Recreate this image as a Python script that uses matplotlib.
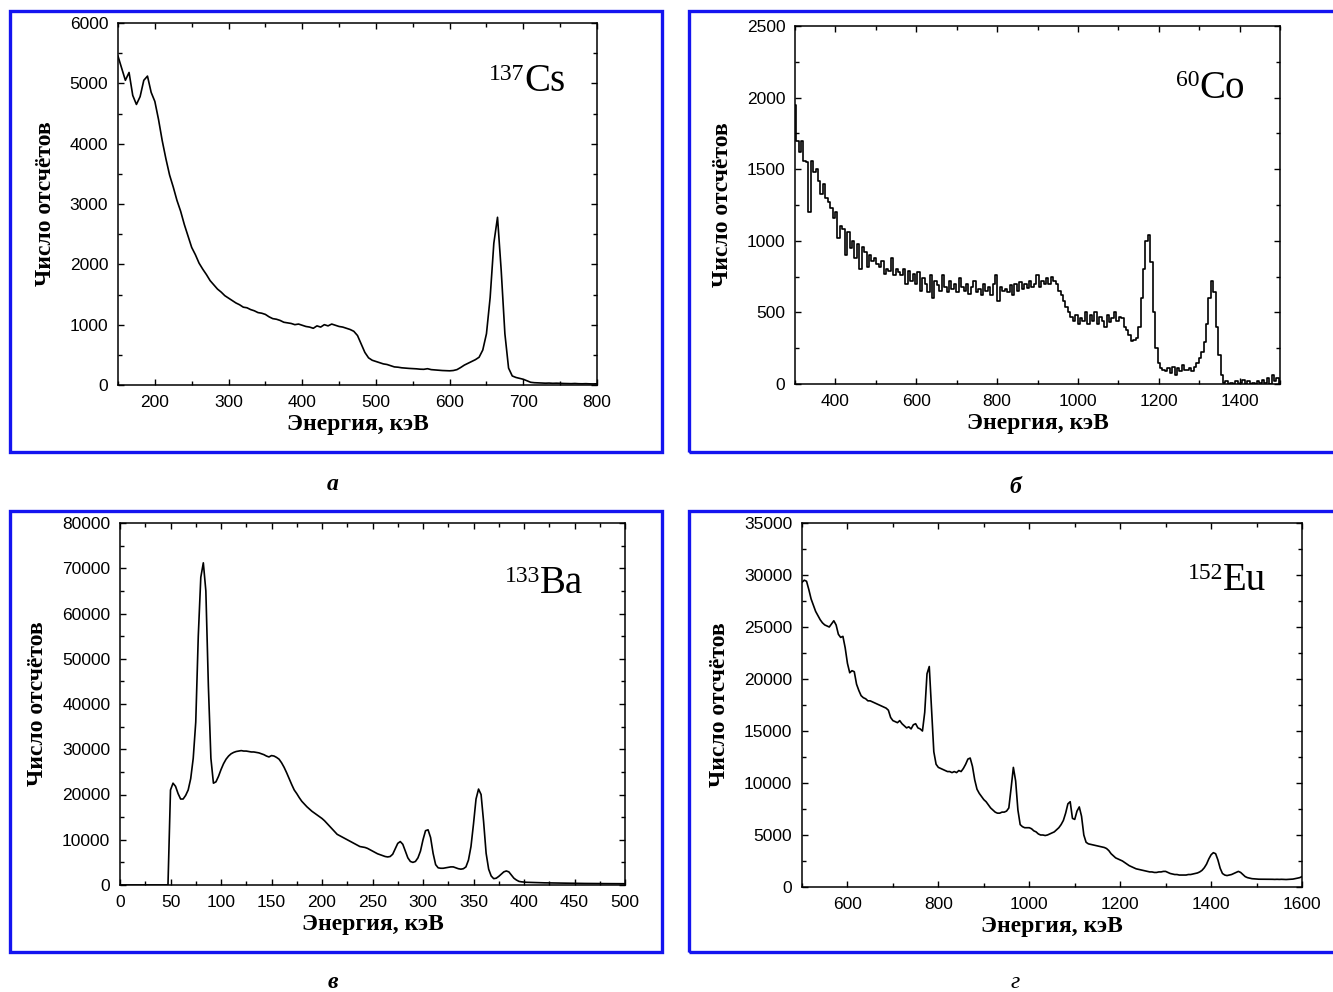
import numpy as np
import matplotlib
matplotlib.use("Agg")
import matplotlib.pyplot as plt
from matplotlib.patches import Rectangle
from matplotlib.ticker import MultipleLocator

plt.rcParams['font.family'] = ['Liberation Sans', 'DejaVu Sans']

# -----------------------------
# Data
# -----------------------------
# 137Cs, 150..800 keV, step 5
cs_start, cs_step = 150, 5
cs_counts = [
    5450, 5250, 5050, 5180, 4800, 4650, 4780, 5050, 5120, 4850,
    4700, 4400, 4050, 3750, 3480, 3280, 3060, 2880, 2660, 2470,
    2280, 2160, 2020, 1920, 1830, 1730, 1660, 1590, 1540, 1480,
    1440, 1400, 1360, 1330, 1290, 1280, 1250, 1230, 1200, 1190,
    1170, 1130, 1100, 1090, 1070, 1040, 1030, 1020, 1000, 1010,
    990, 970, 960, 940, 980, 960, 1000, 980, 1010, 990,
    970, 960, 940, 920, 890, 820, 680, 540, 450, 410,
    390, 370, 350, 340, 320, 300, 295, 285, 280, 275,
    272, 268, 262, 260, 270, 255, 250, 245, 240, 238,
    235, 240, 255, 290, 330, 360, 390, 420, 460, 580,
    850, 1450, 2350, 2780, 1900, 850, 280, 150, 125, 110,
    95, 70, 45, 38, 35, 33, 30, 32, 28, 30,
    27, 25, 24, 22, 25, 21, 20, 22, 19, 18, 20,
]

# 60Co, 300..1500 keV, step 6
co_start, co_step = 300, 6
co_counts = [
    1950, 1700, 1620, 1700, 1560, 1550, 1200, 1560, 1480, 1500,
    1420, 1330, 1400, 1300, 1270, 1230, 1160, 1200, 1020, 1100,
    1080, 900, 1060, 950, 1000, 880, 980, 800, 960, 920,
    820, 900, 860, 880, 840, 820, 860, 770, 800, 790,
    880, 760, 800, 780, 760, 800, 700, 790, 720, 770,
    700, 780, 650, 740, 700, 640, 760, 600, 720, 690,
    650, 760, 680, 640, 720, 660, 700, 640, 740, 680,
    650, 700, 630, 680, 720, 640, 660, 620, 700, 650,
    680, 620, 700, 760, 580, 680, 650, 660, 640, 690,
    620, 700, 650, 710, 660, 700, 670, 720, 680, 700,
    760, 680, 720, 700, 740, 700, 750, 720, 700, 650,
    620, 580, 540, 500, 470, 440, 480, 420, 460, 440,
    500, 420, 480, 440, 500, 420, 470, 440, 400, 480,
    430, 460, 500, 440, 470, 460, 400, 380, 340, 300,
    310, 320, 400, 600, 800, 1000, 1040, 850, 500, 250,
    150, 110, 100, 90, 110, 80, 120, 60, 110, 90,
    130, 100, 100, 110, 90, 120, 150, 180, 220, 290,
    420, 600, 720, 640, 400, 200, 60, 10, 20, 0,
    10, 0, 20, 0, 10, 30, 0, 20, 0, 10,
    0, 20, 10, 30, 10, 40, 0, 60, 20, 40, 0,
]

# 133Ba, 0..500 keV, step 2.5
ba_start, ba_step = 0, 2.5
ba_counts = [
    0, 0, 0, 0, 0, 0, 0, 0, 0, 0,
    0, 0, 0, 0, 0, 0, 0, 0, 0, 0,
    21000, 22500, 21800, 20200, 19000, 19000, 19800, 21000, 23500, 28000,
    36000, 55000, 68000, 71200, 65000, 44000, 28000, 22500, 22800, 24000,
    25500, 26800, 27800, 28500, 29000, 29300, 29500, 29600, 29700, 29600,
    29600, 29500, 29400, 29400, 29300, 29200, 29000, 28800, 28500, 28300,
    28600, 28500, 28200, 27800, 27000, 26000, 24800, 23500, 22200, 21000,
    20200, 19300, 18500, 17900, 17300, 16800, 16300, 15900, 15500, 15100,
    14700, 14200, 13600, 13000, 12400, 11800, 11200, 10900, 10600, 10300,
    10000, 9700, 9400, 9100, 8800, 8500, 8400, 8300, 8100, 7800,
    7500, 7200, 6900, 6700, 6500, 6300, 6200, 6300, 6800, 8000,
    9200, 9600, 9000, 7500, 6000, 5200, 5000, 5200, 6000, 7500,
    10000, 12000, 12200, 10500, 7000, 4500, 3800, 3700, 3700, 3800,
    3900, 4000, 4000, 3800, 3600, 3500, 3600, 4000, 5500, 8500,
    13500, 19000, 21200, 20000, 14000, 7000, 3500, 2000, 1400, 1500,
    1900, 2400, 2900, 3100, 2900, 2200, 1500, 1100, 800, 700,
    650, 600, 580, 560, 540, 520, 500, 490, 480, 470,
    460, 450, 440, 430, 420, 410, 400, 400, 390, 380,
    380, 370, 360, 350, 340, 340, 330, 330, 320, 320,
    310, 310, 300, 300, 300, 290, 290, 280, 280, 280, 280,
]

# 152Eu, 500..1600 keV, step 5
eu_start, eu_step = 500, 5
eu_counts = [
    29300, 29500, 29400, 28600, 27700, 27100, 26500, 26100, 25700, 25400,
    25200, 25100, 25000, 25300, 25600, 25200, 24300, 24000, 24100, 23000,
    21500, 20600, 20800, 20700, 19500, 18900, 18400, 18200, 18100, 17900,
    17900, 17800, 17700, 17600, 17500, 17400, 17300, 17200, 17000, 16300,
    16000, 15900, 15800, 16000, 15700, 15500, 15300, 15400, 15200, 15600,
    15700, 15300, 15200, 15000, 16800, 20500, 21200, 17000, 13000, 11800,
    11500, 11400, 11300, 11200, 11100, 11100, 11000, 11100, 11000, 11200,
    11100, 11400, 11800, 12300, 12400, 11600, 10300, 9400, 9000, 8700,
    8400, 8200, 7900, 7600, 7400, 7200, 7100, 7100, 7200, 7200,
    7300, 7600, 9500, 11500, 10200, 7400, 6000, 5800, 5700, 5700,
    5700, 5600, 5400, 5300, 5100, 5000, 5000, 4950, 5000, 5100,
    5200, 5300, 5500, 5700, 6000, 6400, 7100, 8000, 8200, 6600,
    6500, 7300, 7700, 6800, 5000, 4300, 4150, 4100, 4050, 4000,
    3950, 3900, 3850, 3800, 3700, 3500, 3200, 3000, 2800, 2700,
    2600, 2500, 2350, 2200, 2050, 1950, 1850, 1750, 1700, 1650,
    1600, 1550, 1500, 1450, 1450, 1400, 1400, 1450, 1450, 1500,
    1500, 1400, 1300, 1250, 1200, 1200, 1150, 1150, 1150, 1150,
    1200, 1200, 1250, 1300, 1350, 1450, 1600, 1850, 2200, 2700,
    3100, 3300, 3200, 2600, 1800, 1300, 1150, 1100, 1150, 1200,
    1300, 1400, 1500, 1400, 1200, 1000, 900, 850, 800, 780,
    760, 750, 750, 750, 740, 740, 750, 740, 730, 740,
    730, 740, 730, 720, 730, 750, 760, 800, 850, 900, 1000,
]

panels = [
    # counts, start, step, xlim, ylim, xmaj, xmin, ymaj, ymin, mass, symbol, label, drawstyle
    (cs_counts, cs_start, cs_step, (150, 800), (0, 6000), 100, 50, 1000, 500, "137", "Cs", "а", 'default'),
    (co_counts, co_start, co_step, (300, 1500), (0, 2500), 200, 100, 500, 250, "60", "Co", "б", 'steps-mid'),
    (ba_counts, ba_start, ba_step, (0, 500), (0, 80000), 50, 25, 10000, 5000, "133", "Ba", "в", 'default'),
    (eu_counts, eu_start, eu_step, (500, 1600), (0, 35000), 200, 100, 5000, 2500, "152", "Eu", "г", 'default'),
]

W, H = 1333, 992
# axes rectangles in pixels: left, top, right, bottom
axes_px = [(118, 23, 597, 385), (795, 26, 1280, 384), (120, 523, 625, 885), (802, 523, 1302, 887)]
box_px = [(10, 11, 662, 452), (689, 11, 1345, 452), (10, 511, 662, 952), (689, 511, 1345, 952)]
iso_pos = [(0.935, 0.812), (0.928, 0.80), (0.917, 0.807), (0.928, 0.816)]
cap_px = [(333, 484), (1015, 487), (333, 983), (1015, 983)]

fig = plt.figure(figsize=(W / 100, H / 100), dpi=100)

for i, (counts, x0, dx, xlim, ylim, xmaj, xmin, ymaj, ymin, mass, sym, lab, ds) in enumerate(panels):
    l, t, r, b = axes_px[i]
    ax = fig.add_axes([l / W, 1 - b / H, (r - l) / W, (b - t) / H])
    energy = x0 + dx * np.arange(len(counts))
    ax.plot(energy, counts, drawstyle=ds, color='black', lw=1.2)
    ax.set_xlim(*xlim)
    ax.set_ylim(*ylim)
    ax.xaxis.set_major_locator(MultipleLocator(xmaj))
    ax.xaxis.set_minor_locator(MultipleLocator(xmin))
    ax.yaxis.set_major_locator(MultipleLocator(ymaj))
    ax.yaxis.set_minor_locator(MultipleLocator(ymin))
    ax.tick_params(which='both', direction='in', top=True, right=True, width=1.0)
    ax.tick_params(which='major', length=4.5, labelsize=12.5, pad=7)
    ax.tick_params(which='minor', length=3)
    for s in ax.spines.values():
        s.set_linewidth(1.1)
    ax.set_xlabel("Энергия, кэВ", family='Liberation Serif', weight='bold', fontsize=17, labelpad=3)
    ax.set_ylabel("Число отсчётов", family='Liberation Serif', weight='bold', fontsize=17, labelpad=10)

    # isotope label with superscript mass number
    main = ax.text(iso_pos[i][0], iso_pos[i][1], sym, transform=ax.transAxes, ha='right',
                   va='baseline', family='Liberation Serif', fontsize=28)
    ax.annotate(mass, xy=(0, 0.98), xycoords=main, ha='right', va='top',
                family='Liberation Serif', fontsize=17)

    # blue frame around the panel
    bl, bt, br, bb = box_px[i]
    fig.add_artist(Rectangle((bl / W, 1 - bb / H), (br - bl) / W, (bb - bt) / H,
                             transform=fig.transFigure, fill=False,
                             edgecolor='#1414f0', lw=2.4, clip_on=False))

    cx, cy = cap_px[i]
    fig.text(cx / W, 1 - cy / H, lab, ha='center', va='center', family='Liberation Serif',
             style='italic', weight='normal' if lab == "г" else 'bold', fontsize=17)

fig.savefig("out.png", dpi=100)
